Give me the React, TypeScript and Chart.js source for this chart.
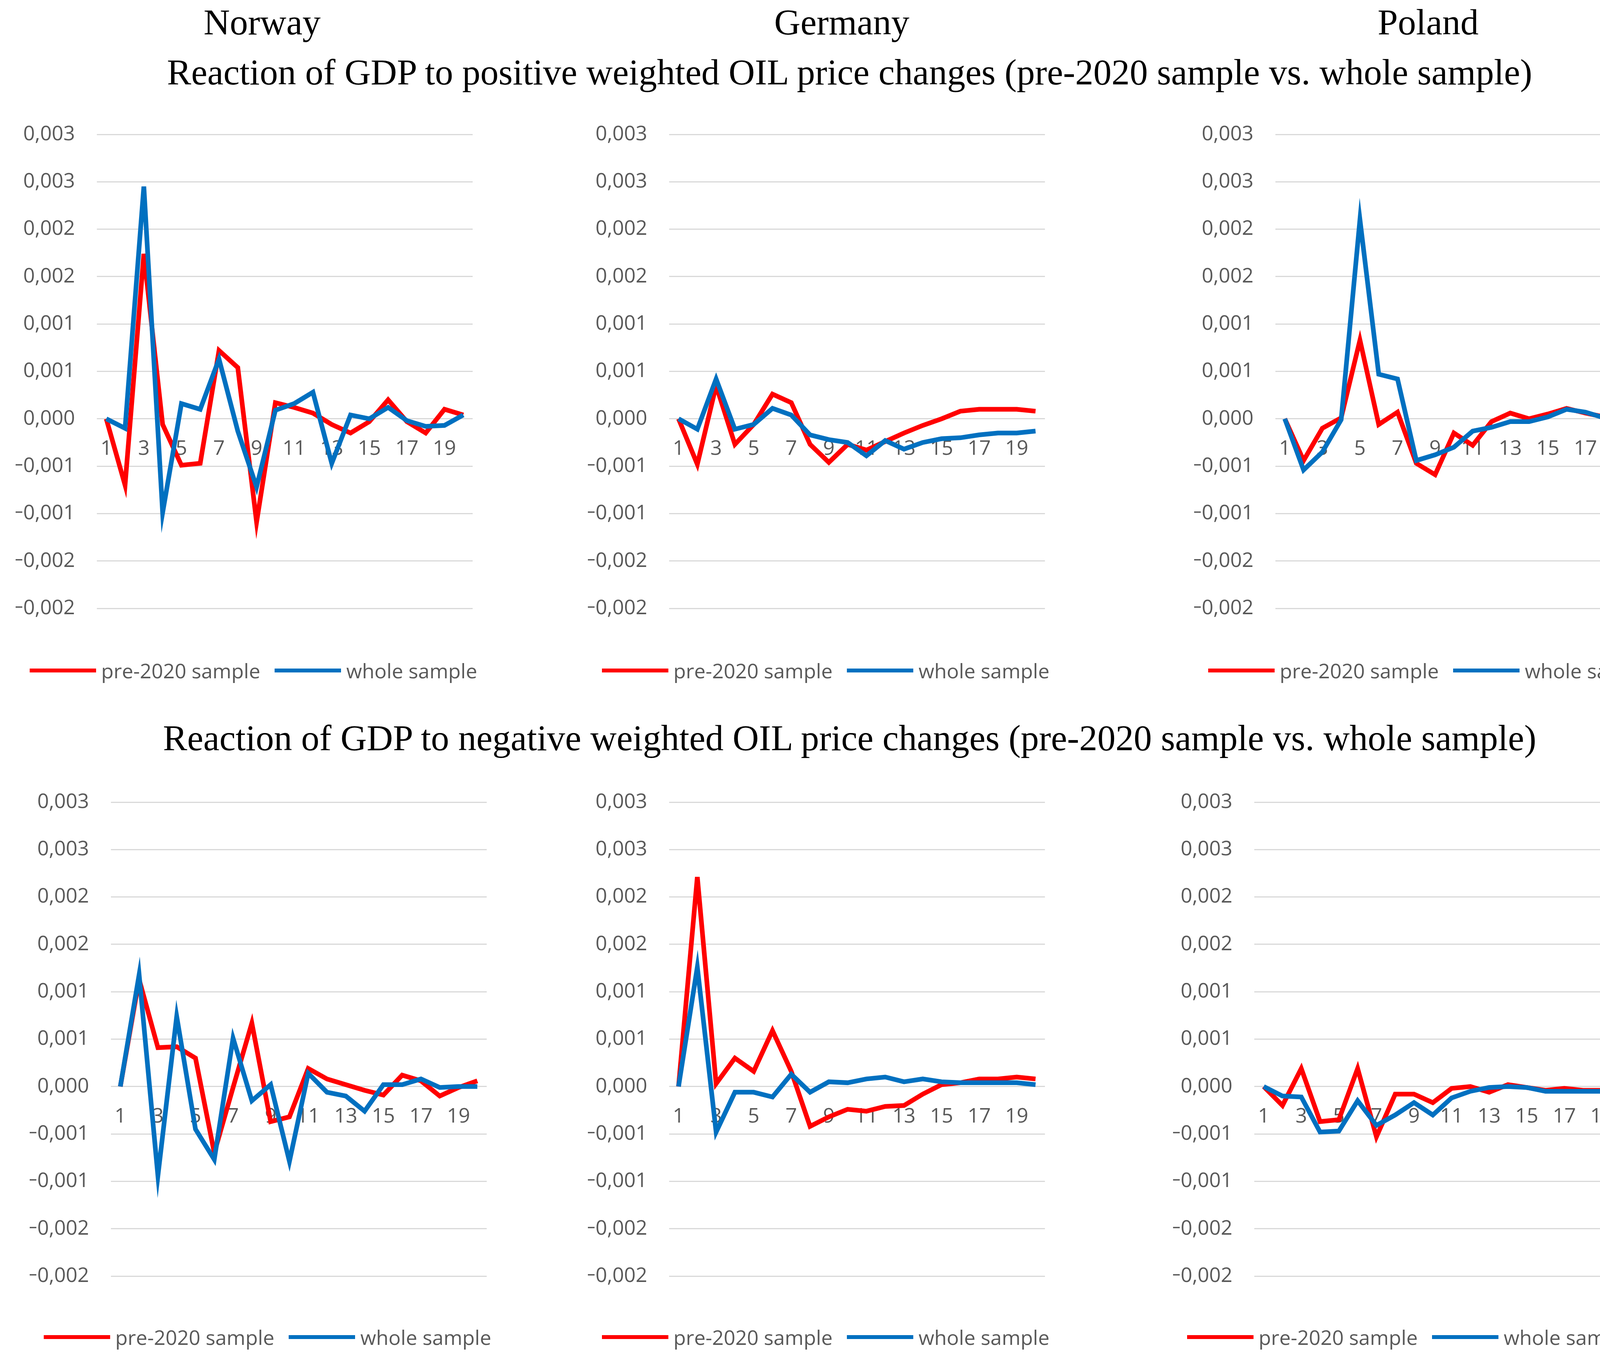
import React, { useEffect, useRef } from 'react';
import { Chart, LineController, LineElement, PointElement, LinearScale, CategoryScale } from 'chart.js';

Chart.register(LineController, LineElement, PointElement, LinearScale, CategoryScale);

// horizons 1..20, only every other one is labelled on the axis
const horizons = ['1', '2', '3', '4', '5', '6', '7', '8', '9', '10', '11', '12', '13', '14', '15', '16', '17', '18', '19', '20'];
// y tick labels from bottom (-0.002) to top (0.003), rounded to 3 decimals like the source
const yTickLabels = ['\u22120,002', '\u22120,002', '\u22120,001', '\u22120,001', '0,000', '0,001', '0,001', '0,002', '0,002', '0,003', '0,003'];

const countries = ['Norway', 'Germany', 'Poland'];
const rowTitles = [
    'Reaction of GDP to positive weighted OIL price changes (pre-2020 sample vs. whole sample)',
    'Reaction of GDP to negative weighted OIL price changes (pre-2020 sample vs. whole sample)',
];
const seriesLabels = ['pre-2020 sample', 'whole sample'];

// positive oil price changes
const norwayPosPre = [0, -0.0007, 0.00174, -0.00006, -0.00049, -0.00047, 0.00072, 0.00054, -0.00109, 0.00017, 0.00012, 0.00006, -0.00006, -0.00015, -0.00003, 0.0002, -0.00003, -0.00015, 0.0001, 0.00004];
const norwayPosWhole = [0, -0.0001, 0.00245, -0.00099, 0.00016, 0.0001, 0.00063, -0.00013, -0.00072, 0.00009, 0.00016, 0.00028, -0.00047, 0.00004, 0, 0.00012, -0.00002, -0.00008, -0.00007, 0.00004];
const germanyPosPre = [0, -0.00048, 0.00035, -0.00027, -0.00006, 0.00026, 0.00017, -0.00027, -0.00046, -0.00027, -0.00033, -0.00024, -0.00015, -0.00007, 0, 0.00008, 0.0001, 0.0001, 0.0001, 0.00008];
const germanyPosWhole = [0, -0.00011, 0.00042, -0.00011, -0.00006, 0.00011, 0.00004, -0.00017, -0.00022, -0.00025, -0.00039, -0.00023, -0.00032, -0.00025, -0.00021, -0.0002, -0.00017, -0.00015, -0.00015, -0.00013];
const polandPosPre = [0, -0.00044, -0.0001, 0.00001, 0.00083, -0.00006, 0.00007, -0.00047, -0.00059, -0.00015, -0.00028, -0.00003, 0.00006, 0, 0.00005, 0.00011, 0.00006, 0.00002, 0, -0.00007];
const polandPosWhole = [0, -0.00054, -0.00035, -0.00001, 0.0021, 0.00047, 0.00042, -0.00044, -0.00038, -0.0003, -0.00013, -0.00009, -0.00003, -0.00003, 0.00002, 0.0001, 0.00007, 0.00001, -0.00004, -0.0001];

// negative oil price changes
const norwayNegPre = [0, 0.00113, 0.00041, 0.00042, 0.0003, -0.0007, -0.00001, 0.00067, -0.00037, -0.00032, 0.00019, 0.00008, 0.00002, -0.00004, -0.00009, 0.00012, 0.00006, -0.0001, -0.00001, 0.00006];
const norwayNegWhole = [0, 0.00118, -0.00094, 0.00074, -0.00045, -0.00077, 0.00051, -0.00015, 0.00002, -0.00079, 0.00014, -0.00006, -0.0001, -0.00026, 0.00002, 0.00002, 0.00008, -0.00001, 0, 0];
const germanyNegPre = [0, 0.00221, 0.00003, 0.0003, 0.00016, 0.00059, 0.00016, -0.00042, -0.00032, -0.00024, -0.00026, -0.00021, -0.0002, -0.00008, 0.00002, 0.00004, 0.00008, 0.00008, 0.0001, 0.00008];
const germanyNegWhole = [0, 0.00126, -0.00048, -0.00006, -0.00006, -0.00011, 0.00013, -0.00006, 0.00005, 0.00004, 0.00008, 0.0001, 0.00005, 0.00008, 0.00005, 0.00004, 0.00004, 0.00004, 0.00004, 0.00002];
const polandNegPre = [0, -0.0002, 0.00019, -0.00037, -0.00035, 0.00019, -0.00053, -0.00008, -0.00008, -0.00017, -0.00002, 0, -0.00006, 0.00002, -0.00001, -0.00004, -0.00002, -0.00004, -0.00004, -0.00002];
const polandNegWhole = [0, -0.0001, -0.00011, -0.00048, -0.00047, -0.00015, -0.00041, -0.0003, -0.00017, -0.0003, -0.00012, -0.00005, -0.00001, 0, -0.00001, -0.00005, -0.00005, -0.00005, -0.00005, -0.00005];

const RED = '#FF0000';
const BLUE = '#0070C0';
const TICK_COLOR = '#595959';
const SANS = "'Open Sans', 'Noto Sans', sans-serif";
const SERIF = "'Liberation Serif', 'DejaVu Serif', serif";

const AXIS_W = 208;
const PLOT_W = 962;
const PLOT_H = 1213;
const PAD_X = 40;
// must be larger than the y axis label padding chart.js reserves (half label + tick padding)
const PAD_Y = 90;

interface PanelProps {
    left: number; // left edge of the plot area
    top: number; // top gridline
    legendY: number;
    pre: number[];
    whole: number[];
}

const ImpulseChart: React.FC<PanelProps> = ({ left, top, legendY, pre, whole }) => {
    const chartRef = useRef<HTMLCanvasElement>(null);

    useEffect(() => {
        if (!chartRef.current) return;
        const tickFont = { family: SANS, size: 52 };
        const chart = new Chart(chartRef.current, {
            type: 'line',
            data: {
                labels: horizons,
                datasets: [
                    { label: seriesLabels[0], data: pre, borderColor: RED, backgroundColor: RED, borderWidth: 12, pointRadius: 0, order: 2 },
                    // drawn on top of the red one, like in excel
                    { label: seriesLabels[1], data: whole, borderColor: BLUE, backgroundColor: BLUE, borderWidth: 12, pointRadius: 0, order: 1 },
                ],
            },
            options: {
                animation: false,
                responsive: true,
                maintainAspectRatio: false,
                layout: { padding: { top: PAD_Y, bottom: PAD_Y, right: PAD_X, left: 0 } },
                scales: {
                    x: {
                        type: 'category',
                        position: { y: 0 } as any,
                        offset: true,
                        grid: { display: false, drawTicks: false },
                        border: { display: false },
                        ticks: {
                            autoSkip: false,
                            maxRotation: 0,
                            padding: 46,
                            color: TICK_COLOR,
                            font: tickFont,
                            callback: (_v, i) => (i % 2 === 0 ? horizons[i] : ''),
                        },
                    },
                    y: {
                        min: -0.002,
                        max: 0.003,
                        grid: { color: '#D9D9D9', lineWidth: 3, drawTicks: false },
                        border: { display: false },
                        ticks: {
                            stepSize: 0.0005,
                            padding: 56,
                            color: TICK_COLOR,
                            font: tickFont,
                            callback: (_v, i) => yTickLabels[i],
                        },
                        afterFit: (axis) => {
                            axis.width = AXIS_W;
                        },
                    },
                },
            },
        });

        return () => {
            chart.destroy();
        };
    }, [pre, whole]);

    const swatch = (color: string): React.CSSProperties => ({ width: 170, height: 10, background: color, marginRight: 13 });

    return (
        <>
            <div style={{ position: 'absolute', left: left - AXIS_W, top: top - PAD_Y, width: AXIS_W + PLOT_W + PAD_X, height: PLOT_H + 2 * PAD_Y }}>
                <canvas ref={chartRef} />
            </div>
            {/* legend drawn outside the canvas */}
            <div
                style={{
                    position: 'absolute',
                    left: left - 172,
                    top: legendY - 40,
                    height: 80,
                    display: 'flex',
                    alignItems: 'center',
                    fontFamily: SANS,
                    fontSize: 52,
                    lineHeight: 1,
                    color: TICK_COLOR,
                    whiteSpace: 'nowrap',
                }}
            >
                <div style={swatch(RED)} />
                <span style={{ marginRight: 37 }}>{seriesLabels[0]}</span>
                <div style={swatch(BLUE)} />
                <span>{seriesLabels[1]}</span>
            </div>
        </>
    );
};

const titleStyle = (x: number, y: number): React.CSSProperties => ({
    position: 'absolute',
    left: x,
    top: y,
    transform: 'translateX(-50%)',
    fontFamily: SERIF,
    fontSize: 93,
    lineHeight: '93px',
    color: '#000',
    whiteSpace: 'nowrap',
});

const App: React.FC = () => {
    const countryX = [671, 2155, 3656];
    return (
        <div style={{ position: 'absolute', left: 0, top: 0, width: 4262, height: 3473, overflow: 'hidden', background: '#fff' }}>
            {countries.map((c, i) => (
                <div key={c} style={titleStyle(countryX[i], 10)}>{c}</div>
            ))}
            <div style={titleStyle(2175, 138)}>{rowTitles[0]}</div>
            <div style={titleStyle(2175, 1842)}>{rowTitles[1]}</div>

            <ImpulseChart left={248} top={344} legendY={1716} pre={norwayPosPre} whole={norwayPosWhole} />
            <ImpulseChart left={1713} top={344} legendY={1716} pre={germanyPosPre} whole={germanyPosWhole} />
            <ImpulseChart left={3265} top={344} legendY={1716} pre={polandPosPre} whole={polandPosWhole} />

            <ImpulseChart left={284} top={2053} legendY={3422} pre={norwayNegPre} whole={norwayNegWhole} />
            <ImpulseChart left={1713} top={2053} legendY={3422} pre={germanyNegPre} whole={germanyNegWhole} />
            <ImpulseChart left={3211} top={2053} legendY={3422} pre={polandNegPre} whole={polandNegWhole} />
        </div>
    );
};

export default App;
